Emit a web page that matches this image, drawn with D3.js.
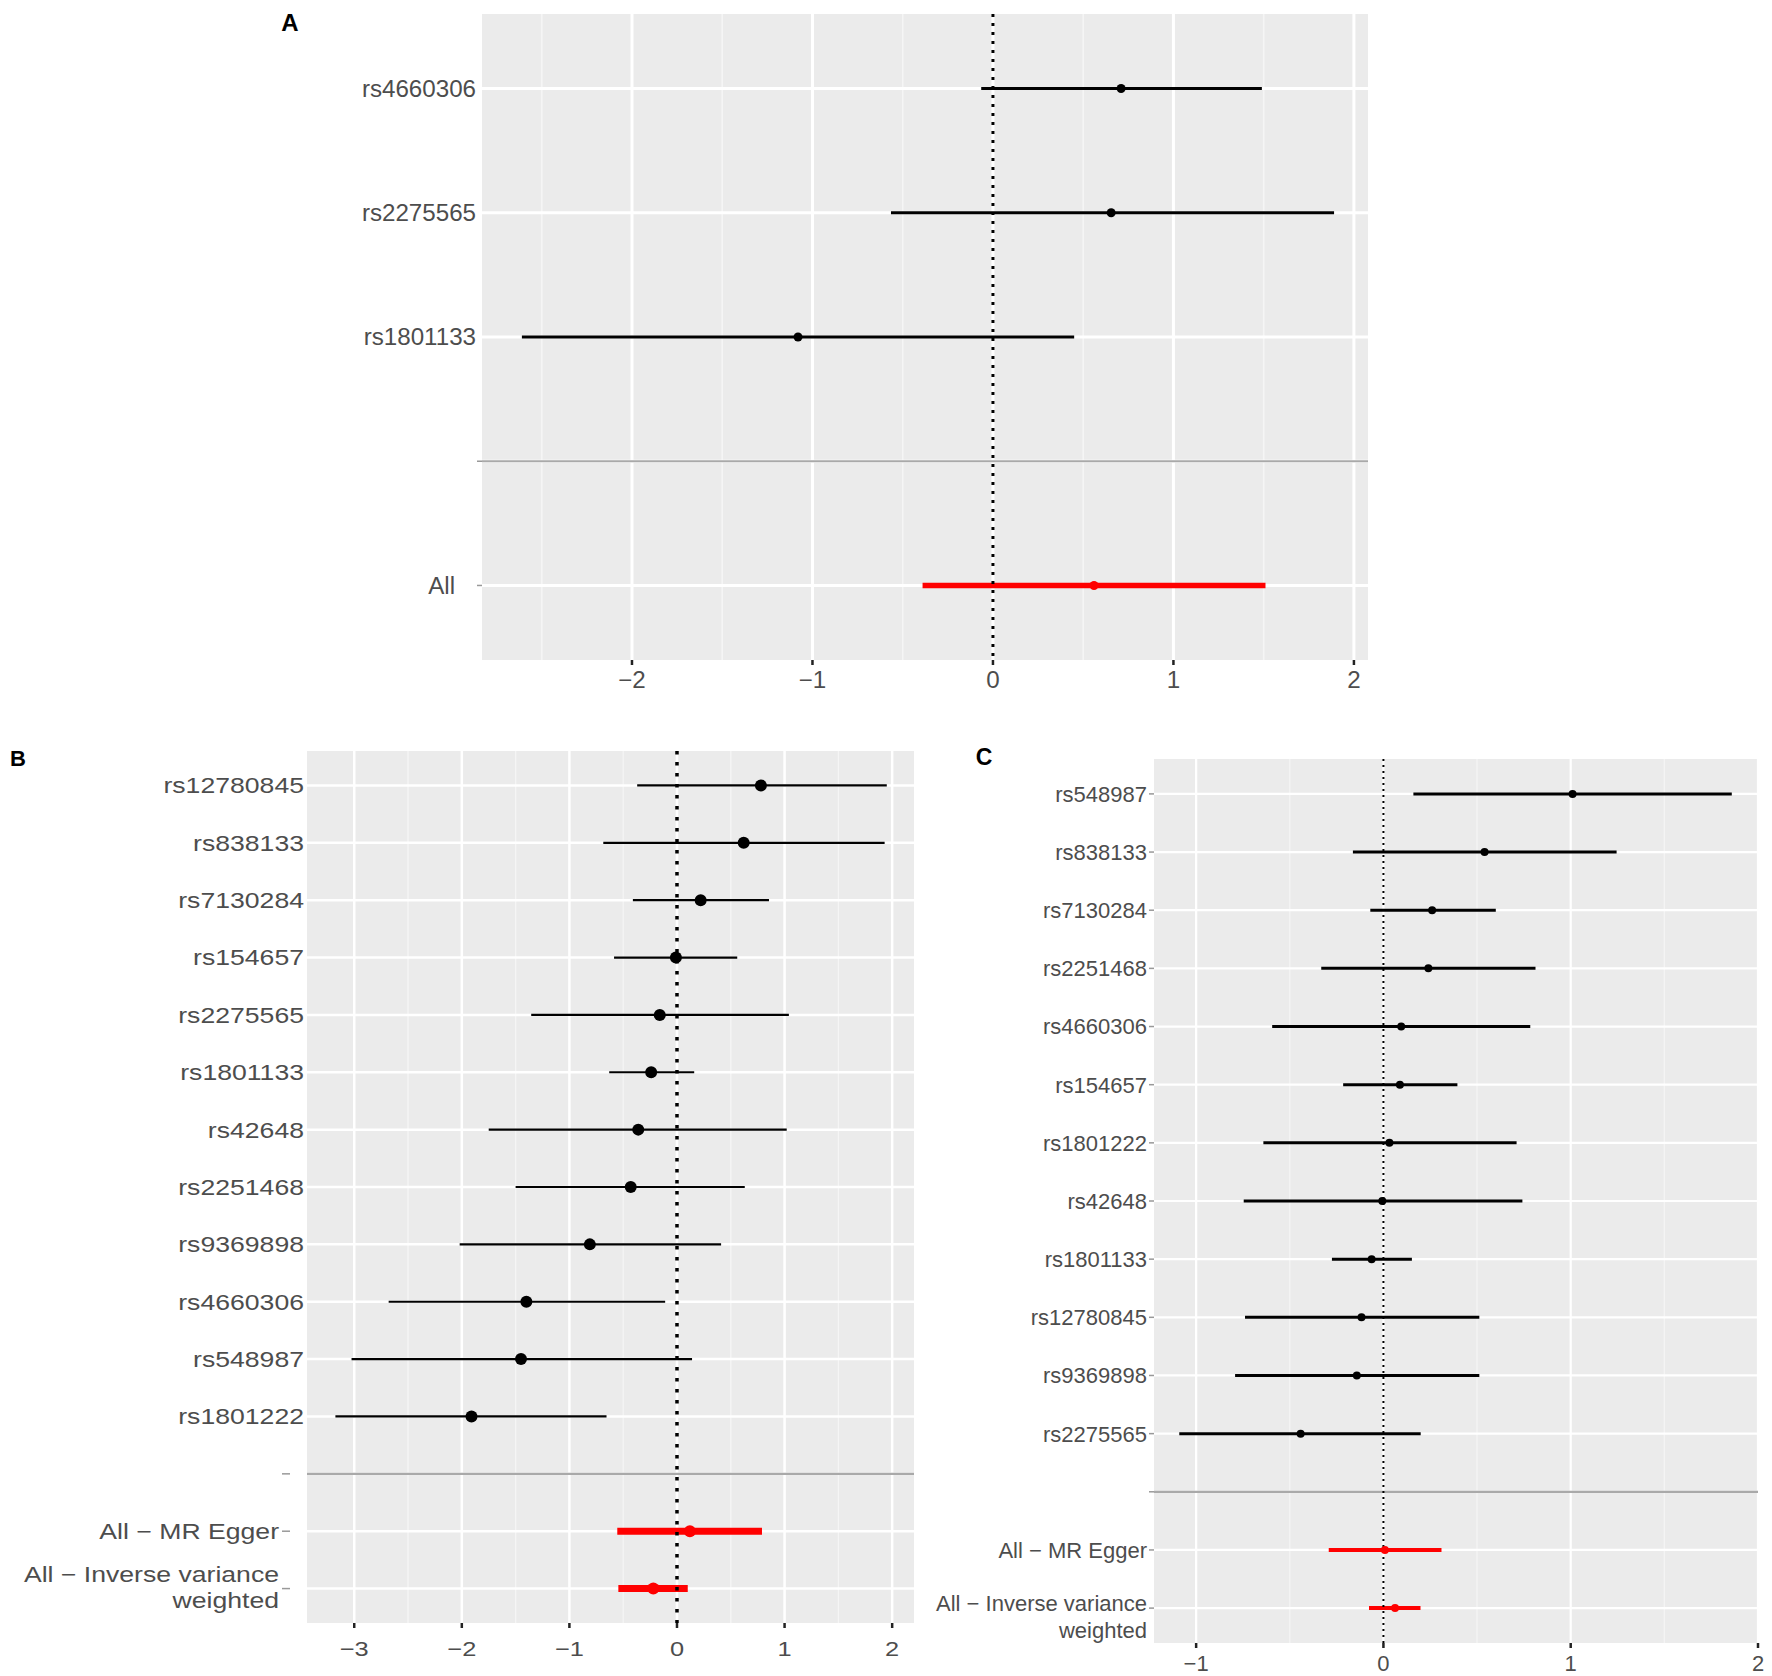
<!DOCTYPE html>
<html>
<head>
<meta charset="utf-8">
<script src="https://cdn.jsdelivr.net/npm/d3@7"></script>
<style>
  body { margin: 0; background: #fff; }
  text { font-family: "Liberation Sans", Arial, Helvetica, sans-serif; }
</style>
</head>
<body>
<div id="chart"></div>
<script>
// ---- data ----
// panel A
var snpsA = ["rs4660306", "rs2275565", "rs1801133"];
var estA  = [0.71, 0.655, -1.08];
var lowA  = [-0.065, -0.565, -2.61];
var highA = [1.49, 1.89, 0.45];
var sumLabelsA = ["All"];
var sumEstA  = [0.56];
var sumLowA  = [-0.39];
var sumHighA = [1.51];

// panel B
var snpsB = ["rs12780845", "rs838133", "rs7130284", "rs154657", "rs2275565", "rs1801133",
             "rs42648", "rs2251468", "rs9369898", "rs4660306", "rs548987", "rs1801222"];
var estB  = [0.78, 0.62, 0.22, -0.01, -0.16, -0.24, -0.36, -0.43, -0.81, -1.40, -1.45, -1.91];
var lowB  = [-0.37, -0.685, -0.41, -0.585, -1.355, -0.63, -1.75, -1.50, -2.02, -2.68, -3.025, -3.175];
var highB = [1.95, 1.93, 0.855, 0.56, 1.04, 0.16, 1.02, 0.63, 0.41, -0.11, 0.14, -0.655];
var sumLabelsB = ["All \u2212 MR Egger", "All \u2212 Inverse variance\nweighted"];
var sumEstB  = [0.12, -0.22];
var sumLowB  = [-0.555, -0.545];
var sumHighB = [0.79, 0.10];

// panel C
var snpsC = ["rs548987", "rs838133", "rs7130284", "rs2251468", "rs4660306", "rs154657",
             "rs1801222", "rs42648", "rs1801133", "rs12780845", "rs9369898", "rs2275565"];
var estC  = [1.01, 0.54, 0.26, 0.24, 0.095, 0.088, 0.032, -0.006, -0.063, -0.117, -0.142, -0.442];
var lowC  = [0.16, -0.163, -0.07, -0.332, -0.594, -0.215, -0.641, -0.746, -0.275, -0.739, -0.792, -1.09];
var highC = [1.86, 1.245, 0.60, 0.812, 0.784, 0.395, 0.711, 0.742, 0.152, 0.512, 0.512, 0.199];
var sumLabelsC = ["All \u2212 MR Egger", "All \u2212 Inverse variance\nweighted"];
var sumEstC  = [0.008, 0.062];
var sumLowC  = [-0.292, -0.077];
var sumHighC = [0.31, 0.198];

var ticksA = [-2, -1, 0, 1, 2];
var ticksB = [-3, -2, -1, 0, 1, 2];
var ticksC = [-1, 0, 1, 2];

// ---- layout ----
var width = 1772, height = 1676;
var textCol = "#4d4d4d";

var svg = d3.select("#chart").append("svg")
    .attr("width", width)
    .attr("height", height);

var panels = [
  { tag: "A", snps: snpsA, est: estA, low: lowA, high: highA,
    sumLabels: sumLabelsA, sumEst: sumEstA, sumLow: sumLowA, sumHigh: sumHighA, ticks: ticksA,
    left: 482, right: 1368, top: 14, bottom: 660, xDomain: [-2.831, 2.078],
    font: 23, sx: 1.05, snpEnd: -6, sumEnd: -27, tickFrom: -5, tickTo: 0, snpTicks: false,
    r: 4.5, lineW: 3, sumW: 5.5, vW: 3, vDash: "3,6", gridW: 3, minorW: 1.6,
    tickFont: 23, tickLabelDy: 20, lineShift: [-14, 13],
    tagX: 290, tagY: 22, tagFont: 24 },
  { tag: "B", snps: snpsB, est: estB, low: lowB, high: highB,
    sumLabels: sumLabelsB, sumEst: sumEstB, sumLow: sumLowB, sumHigh: sumHighB, ticks: ticksB,
    left: 307, right: 914, top: 751, bottom: 1623, xDomain: [-3.439, 2.203],
    font: 22, sx: 1.21, snpEnd: -3, sumEnd: -28, tickFrom: -25, tickTo: -17, snpTicks: false,
    r: 6, lineW: 2.2, sumW: 7, vW: 3.5, vDash: "3.5,7.5", gridW: 2.5, minorW: 1.3,
    tickFont: 21, tickLabelDy: 25, lineShift: [-15, 12],
    tagX: 18, tagY: 758, tagFont: 22 },
  { tag: "C", snps: snpsC, est: estC, low: lowC, high: highC,
    sumLabels: sumLabelsC, sumEst: sumEstC, sumLow: sumLowC, sumHigh: sumHighC, ticks: ticksC,
    left: 1154, right: 1758, top: 759, bottom: 1643, xDomain: [-1.225, 2.0],
    font: 22, sx: 1.0, snpEnd: -7, sumEnd: -7, tickFrom: -5, tickTo: 0, snpTicks: true,
    r: 4, lineW: 3, sumW: 4, vW: 2, vDash: "2,4", gridW: 2.2, minorW: 1.2,
    tickFont: 22, tickLabelDy: 20, lineShift: [-5, 22],
    tagX: 984, tagY: 757, tagFont: 23 }
];

panels.forEach(drawPanel);

function drawPanel(p) {
  // rows: snps, blank separator, summaries
  var rows = [];
  p.snps.forEach(function(s, i) {
    rows.push({ key: "s" + i, label: s, est: p.est[i], low: p.low[i], high: p.high[i], sum: false });
  });
  rows.push({ key: "blank", label: "", blank: true });
  p.sumLabels.forEach(function(s, i) {
    rows.push({ key: "t" + i, label: s, est: p.sumEst[i], low: p.sumLow[i], high: p.sumHigh[i], sum: true });
  });

  var x = d3.scaleLinear().domain(p.xDomain).range([p.left, p.right]);
  var y = d3.scalePoint().domain(rows.map(function(d) { return d.key; }))
      .range([p.top, p.bottom]).padding(0.6);

  var g = svg.append("g");

  // panel background
  g.append("rect")
      .attr("x", p.left).attr("y", p.top)
      .attr("width", p.right - p.left).attr("height", p.bottom - p.top)
      .attr("fill", "#ebebeb");

  // minor vertical grid (half steps)
  var minor = d3.range(Math.ceil(p.xDomain[0] - 0.5), p.xDomain[1], 1)
      .map(function(v) { return v + 0.5; })
      .filter(function(v) { return v > p.xDomain[0] && v < p.xDomain[1]; });
  g.selectAll(".minor").data(minor).enter().append("line")
      .attr("x1", x).attr("x2", x)
      .attr("y1", p.top).attr("y2", p.bottom)
      .attr("stroke", "#f5f5f5").attr("stroke-width", p.minorW);

  // major vertical grid
  g.selectAll(".vmajor").data(p.ticks).enter().append("line")
      .attr("x1", x).attr("x2", x)
      .attr("y1", p.top).attr("y2", p.bottom)
      .attr("stroke", "#fff").attr("stroke-width", p.gridW);

  // horizontal grid
  g.selectAll(".hmajor").data(rows).enter().append("line")
      .attr("x1", p.left).attr("x2", p.right)
      .attr("y1", function(d) { return y(d.key); })
      .attr("y2", function(d) { return y(d.key); })
      .attr("stroke", "#fff").attr("stroke-width", p.gridW);

  // separator line at the blank row
  g.append("line")
      .attr("x1", p.left).attr("x2", p.right)
      .attr("y1", y("blank")).attr("y2", y("blank"))
      .attr("stroke", "#a9a9a9").attr("stroke-width", 2.2);

  var est = rows.filter(function(d) { return !d.blank; });

  // confidence intervals
  g.selectAll(".ci").data(est).enter().append("line")
      .attr("x1", function(d) { return x(d.low); })
      .attr("x2", function(d) { return x(d.high); })
      .attr("y1", function(d) { return y(d.key); })
      .attr("y2", function(d) { return y(d.key); })
      .attr("stroke", function(d) { return d.sum ? "#ff0000" : "#000"; })
      .attr("stroke-width", function(d) { return d.sum ? p.sumW : p.lineW; });

  // dotted zero line
  g.append("line")
      .attr("x1", x(0)).attr("x2", x(0))
      .attr("y1", p.top).attr("y2", p.bottom)
      .attr("stroke", "#000").attr("stroke-width", p.vW)
      .attr("stroke-dasharray", p.vDash);

  // point estimates
  g.selectAll(".pt").data(est).enter().append("circle")
      .attr("cx", function(d) { return x(d.est); })
      .attr("cy", function(d) { return y(d.key); })
      .attr("r", p.r)
      .attr("fill", function(d) { return d.sum ? "#ff0000" : "#000"; });

  // y-axis ticks
  g.selectAll(".ytick").data(rows.filter(function(d) { return p.snpTicks || d.sum || d.blank; }))
    .enter().append("line")
      .attr("x1", p.left + p.tickFrom).attr("x2", p.left + p.tickTo)
      .attr("y1", function(d) { return y(d.key); })
      .attr("y2", function(d) { return y(d.key); })
      .attr("stroke", "#999").attr("stroke-width", 1.5);

  // y-axis labels
  var labs = g.selectAll(".ylab").data(rows.filter(function(d) { return !d.blank; }))
    .enter().append("text")
      .attr("transform", function(d) {
        var ex = p.left + (d.sum ? p.sumEnd : p.snpEnd);
        return "translate(" + ex + "," + y(d.key) + ") scale(" + p.sx + ",1)";
      })
      .attr("text-anchor", "end")
      .attr("font-size", p.font)
      .attr("fill", textCol);
  labs.each(function(d) {
    var parts = d.label.split("\n");
    var t = d3.select(this);
    if (parts.length === 1) {
      t.append("tspan").attr("x", 0).attr("dy", "0.36em").text(parts[0]);
    } else {
      parts.forEach(function(s, i) {
        t.append("tspan").attr("x", 0).attr("y", p.lineShift[i]).attr("dy", "0.36em").text(s);
      });
    }
  });

  // x-axis ticks + labels
  g.selectAll(".xtick").data(p.ticks).enter().append("line")
      .attr("x1", x).attr("x2", x)
      .attr("y1", p.bottom).attr("y2", p.bottom + 5)
      .attr("stroke", "#222").attr("stroke-width", 2.5);
  g.selectAll(".xlab").data(p.ticks).enter().append("text")
      .attr("transform", function(d) {
        return "translate(" + x(d) + "," + (p.bottom + p.tickLabelDy) + ") scale(" + p.sx + ",1)";
      })
      .attr("text-anchor", "middle")
      .attr("dy", "0.36em")
      .attr("font-size", p.tickFont)
      .attr("fill", textCol)
      .text(function(d) { return d < 0 ? "\u2212" + Math.abs(d) : d; });

  // panel tag
  svg.append("text")
      .attr("x", p.tagX).attr("y", p.tagY)
      .attr("dy", "0.36em")
      .attr("text-anchor", "middle")
      .attr("font-size", p.tagFont)
      .attr("font-weight", "bold")
      .attr("fill", "#000")
      .text(p.tag);
}
</script>
</body>
</html>
